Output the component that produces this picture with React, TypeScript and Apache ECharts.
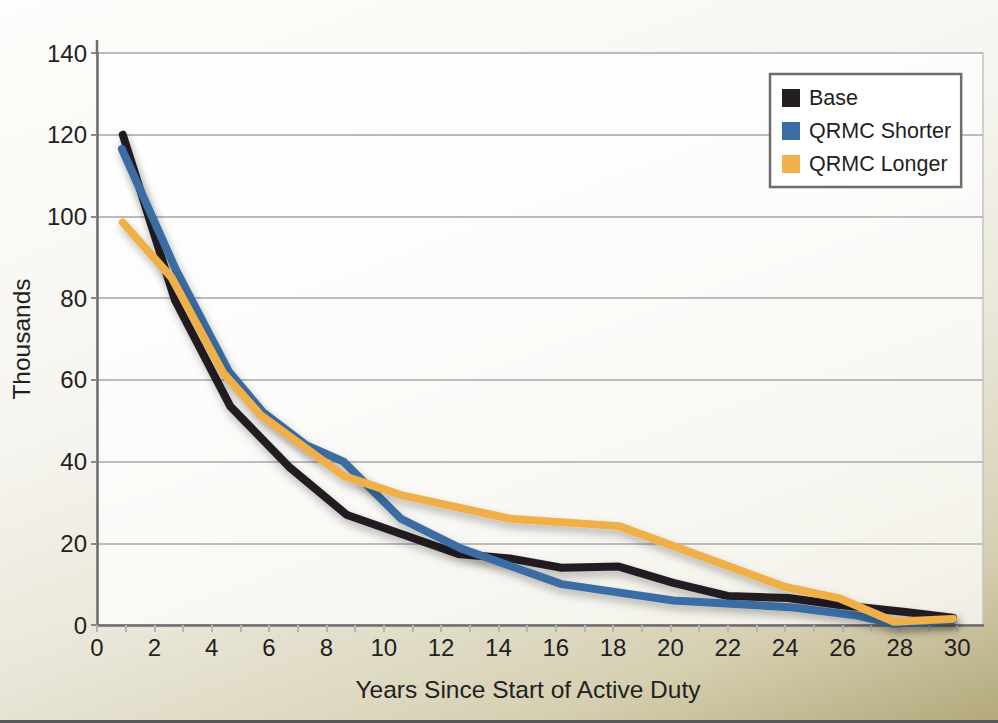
import React, { useEffect, useRef } from "react";
import * as echarts from "echarts";

const seriesNames = ["Base", "QRMC Shorter", "QRMC Longer"];
const seriesColors = ["#231f20", "#3a6da4", "#f0b04a"];

const baseX = [0.9, 2.72, 4.65, 6.73, 8.7, 12.6, 14.4, 16.2, 18.2, 20.1, 22, 24.1, 25.9, 28.2, 29.85];
const baseY = [120, 79.5, 53.5, 38.5, 27, 17.4, 16.3, 14, 14.3, 10.3, 7.1, 6.6, 4.9, 3.2, 1.8];

const shorterX = [0.87, 2.75, 4.6, 5.8, 7.3, 8.6, 10.6, 12.7, 16.2, 20.1, 24.3, 26.5, 27.8, 29.85];
const shorterY = [116.5, 87, 62, 52, 44, 40, 26, 18.7, 10, 6, 4.3, 2.3, 0.3, 1.2];

const longerX = [0.9, 2.6, 4.4, 5.7, 8.6, 10.6, 14.4, 18.2, 24, 25.9, 27.8, 29.85];
const longerY = [98.5, 85, 61.7, 51.4, 36.5, 31.8, 26, 24.2, 9.3, 6.5, 0.8, 1.5];

const yTicks = [0, 20, 40, 60, 80, 100, 120, 140];
const xAxisName = "Years Since Start of Active Duty";
const yAxisName = "Thousands";

const FONT = "'Liberation Sans', Arial, Helvetica, sans-serif";
const TEXT = "#231f20";

function pairs(xs: number[], ys: number[]) {
  return xs.map((x, i) => [x, ys[i]]);
}

export default function App() {
  const ref = useRef<HTMLDivElement>(null);
  useEffect(() => {
    document.body.style.margin = "0";
    const chart = echarts.init(ref.current!, undefined, { renderer: "svg" });
    const datasets = [pairs(baseX, baseY), pairs(shorterX, shorterY), pairs(longerX, longerY)];
    chart.setOption({
      animation: false,
      textStyle: { fontFamily: FONT },
      grid: {
        left: 97,
        top: 53,
        right: 15,
        bottom: 98,
        show: true,
        backgroundColor: "rgba(255,255,255,0.72)",
        borderColor: "#c2c2c4",
        borderWidth: 1.5,
      },
      legend: {
        left: 770,
        top: 74,
        orient: "vertical",
        icon: "rect",
        itemWidth: 18,
        itemHeight: 18,
        itemGap: 11,
        padding: [13, 10, 12, 12],
        backgroundColor: "#ffffff",
        borderColor: "#6d6d6f",
        borderWidth: 2.5,
        borderRadius: 0,
        data: seriesNames,
        itemStyle: { shadowBlur: 0, borderWidth: 0 },
        textStyle: { fontSize: 21.5, color: TEXT, fontFamily: FONT, padding: [0, 0, 0, 4] },
      },
      xAxis: {
        type: "value",
        min: 0,
        max: 30.9,
        interval: 1,
        name: xAxisName,
        nameLocation: "middle",
        nameGap: 52,
        nameTextStyle: { fontSize: 24.5, color: TEXT, fontFamily: FONT, padding: [0, 24, 0, 0] },
        axisLine: { show: true, lineStyle: { color: "#6e6e70", width: 2.5 } },
        axisTick: { show: true, length: 7, lineStyle: { color: "#b4b4bc", width: 2 } },
        axisLabel: {
          fontSize: 24,
          color: TEXT,
          fontFamily: FONT,
          margin: 10,
          showMaxLabel: false,
          formatter: (v: number) => (Number.isInteger(v) && v % 2 === 0 ? String(v) : ""),
        },
        splitLine: { show: false },
      },
      yAxis: {
        type: "value",
        min: yTicks[0],
        max: yTicks[yTicks.length - 1],
        interval: 20,
        name: yAxisName,
        nameLocation: "middle",
        nameGap: 63,
        nameTextStyle: { fontSize: 24.5, color: TEXT, fontFamily: FONT },
        axisLine: { show: true, lineStyle: { color: "#6e6e70", width: 2.5 } },
        axisTick: { show: true, length: 6, lineStyle: { color: "#8a8a8e", width: 2 } },
        axisLabel: { fontSize: 24, color: TEXT, fontFamily: FONT, margin: 10 },
        splitLine: { show: true, lineStyle: { color: "#bcbcc0", width: 2 } },
      },
      graphic: [
        {
          type: "line",
          shape: { x1: 97, y1: 40, x2: 97, y2: 54 },
          style: { stroke: "#6e6e70", lineWidth: 2.5 },
          z: 10,
        },
        {
          type: "rect",
          shape: { x: 0, y: 720, width: 998, height: 3 },
          style: { fill: "#58585a" },
          z: 10,
        },
      ],
      series: seriesNames.map((name, i) => ({
        name,
        type: "line",
        data: datasets[i],
        showSymbol: false,
        symbol: "none",
        clip: false,
        z: 3 + i,
        itemStyle: { color: seriesColors[i] },
        lineStyle: {
          color: seriesColors[i],
          width: 8,
          cap: "round",
          join: "round",
          shadowColor: "rgba(0,0,0,0.28)",
          shadowBlur: 8,
          shadowOffsetX: 2,
          shadowOffsetY: 5,
        },
      })),
    });
    return () => chart.dispose();
  }, []);
  return (
    <div
      ref={ref}
      style={{
        width: 998,
        height: 723,
        background:
          "linear-gradient(160deg, #fdfdfb 0%, #f6f5f0 40%, #eae7da 62%, #d6d0b2 84%, #b3a87b 100%)",
      }}
    />
  );
}
